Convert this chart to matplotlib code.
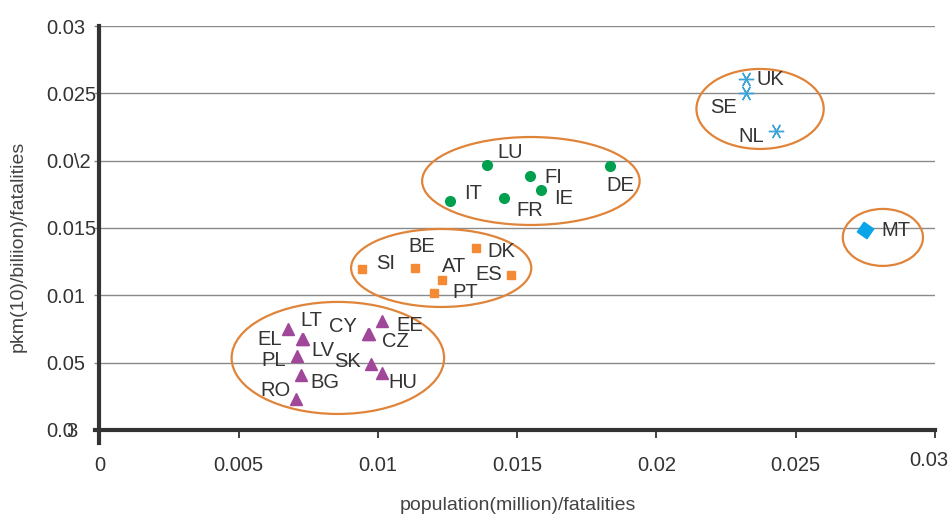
import matplotlib.pyplot as plt
import matplotlib.transforms as mtransforms
from matplotlib.patches import Ellipse

plt.rcParams['font.family'] = ['Liberation Sans', 'DejaVu Sans']

# country groups: x = population(million)/fatalities, y = pkm/fatalities
tri_names = ['LT', 'EL', 'LV', 'PL', 'BG', 'RO', 'CY', 'CZ', 'EE', 'SK', 'HU']
tri_x = [0.00677, 0.00728, 0.00730, 0.00710, 0.00722, 0.00706, 0.00964, 0.00966, 0.01013, 0.00974, 0.01013]
tri_y = [0.00748, 0.00676, 0.00674, 0.00550, 0.00406, 0.00228, 0.00715, 0.00713, 0.00807, 0.00488, 0.00426]

sq_names = ['SI', 'BE', 'DK', 'AT', 'ES', 'PT']
sq_x = [0.00941, 0.01132, 0.01351, 0.01231, 0.01478, 0.01201]
sq_y = [0.01193, 0.01203, 0.01351, 0.01114, 0.01149, 0.01020]

dot_names = ['LU', 'FI', 'IE', 'DE', 'IT', 'FR']
dot_x = [0.01390, 0.01547, 0.01585, 0.01833, 0.01258, 0.01453]
dot_y = [0.01968, 0.01886, 0.01782, 0.01960, 0.01700, 0.01723]

star_names = ['UK', 'SE', 'NL']
star_x = [0.02323, 0.02323, 0.02431]
star_y = [0.02606, 0.02505, 0.02220]

mt_names = ['MT']
mt_x = [0.02748]
mt_y = [0.01485]

# cluster ellipses (centre x, centre y, width, height)
ell_cx = [0.00856, 0.01227, 0.01549, 0.02372, 0.02813]
ell_cy = [0.00535, 0.01203, 0.01849, 0.02384, 0.01430]
ell_w = [0.00763, 0.00647, 0.00781, 0.00457, 0.00288]
ell_h = [0.00832, 0.00579, 0.00653, 0.00594, 0.00423]

xticks = [0, 0.005, 0.01, 0.015, 0.02, 0.025, 0.03]
xtick_labels = ['0', '0.005', '0.01', '0.015', '0.02', '0.025', '0.03']
yticks = [0, 0.005, 0.01, 0.015, 0.02, 0.025, 0.03]
ytick_labels = ['0.0', '0.05', '0.01', '0.015', '0.0\\2', '0.025', '0.03']

# label offsets in pixels (dx, dy, alignment)
tri_off = [(12, 9, 'left'), (-20, -1, 'right'), (9, -11, 'left'), (-11, -5, 'right'),
           (10, -7, 'left'), (-5, 9, 'right'), (-11, 7, 'right'), (13, -8, 'left'),
           (15, -4, 'left'), (-10, 3, 'right'), (7, -10, 'left')]
sq_off = [(15, 6, 'left'), (-6, 21, 'left'), (12, -3, 'left'), (0, 13, 'left'),
          (-9, 1, 'right'), (18, 0, 'left')]
dot_off = [(11, 12, 'left'), (14, -1, 'left'), (13, -8, 'left'), (-4, -19, 'left'),
           (14, 8, 'left'), (12, -13, 'left')]
star_off = [(10, 0, 'left'), (-10, -15, 'right'), (-12, -5, 'right')]
mt_off = [(17, 0, 'left')]

text_col = '#333333'
ell_col = '#E0843A'

fig = plt.figure(figsize=(9.52, 5.16), dpi=100)
ax = fig.add_axes([0.1045, 0.1667, 0.8776, 0.7829])
ax.set_xlim(0, 0.03)
ax.set_ylim(0, 0.03)

ax.yaxis.grid(True, color='#8a8a8a', linewidth=1.0)
ax.set_axisbelow(True)

ax.plot(tri_x, tri_y, '^', color='#A0479A', markersize=8, linestyle='none')
ax.plot(sq_x, sq_y, 's', color='#F58A35', markersize=5.5, linestyle='none')
ax.plot(dot_x, dot_y, 'o', color='#00A04E', markersize=7, linestyle='none')
ax.plot(star_x, star_y, marker=(6, 2, 90), color='#3BA3D6', markersize=11,
        markeredgewidth=1.0, linestyle='none')
ax.plot(mt_x, mt_y, marker=(4, 0, 10), color='#0AA5E8', markersize=12, linestyle='none')

for cx, cy, w, h in zip(ell_cx, ell_cy, ell_w, ell_h):
    ax.add_patch(Ellipse((cx, cy), w, h, fill=False, edgecolor=ell_col, linewidth=1.6))

groups = [(tri_names, tri_x, tri_y, tri_off), (sq_names, sq_x, sq_y, sq_off),
          (dot_names, dot_x, dot_y, dot_off), (star_names, star_x, star_y, star_off),
          (mt_names, mt_x, mt_y, mt_off)]
for names, xs, ys, offs in groups:
    for name, x, y, (dx, dy, ha) in zip(names, xs, ys, offs):
        ax.annotate(name, (x, y), xytext=(dx, dy), textcoords='offset pixels',
                    ha=ha, va='center', fontsize=14.5, color=text_col)

# axes styling
for side in ['top', 'right']:
    ax.spines[side].set_visible(False)
ax.spines['left'].set_linewidth(3)
ax.spines['left'].set_color('#333333')
ax.spines['left'].set_bounds(-0.001, 0.03)
ax.spines['bottom'].set_linewidth(3)
ax.spines['bottom'].set_color('#333333')
ax.spines['bottom'].set_bounds(-0.00015, 0.03)

ax.set_xticks(xticks)
ax.set_xticklabels(xtick_labels)
ax.set_yticks(yticks)
ax.set_yticklabels(ytick_labels)
ax.tick_params(axis='x', direction='out', length=6, width=1.3, color='#333333',
               pad=13, labelsize=14.5, labelcolor=text_col)
ax.tick_params(axis='y', direction='out', length=3.5, width=1.0, color='#8a8a8a',
               pad=34.5, labelsize=14.5, labelcolor=text_col)
for lab in ax.get_yticklabels():
    lab.set_horizontalalignment('left')

# last x label sits a little higher and further left
last = ax.get_xticklabels()[-1]
last.set_transform(last.get_transform() +
                   mtransforms.ScaledTranslation(-6 / 100, 5 / 100, fig.dpi_scale_trans))

# stray "3" overprinted on the bottom y label
ax.annotate('3', (0, 0), xycoords=('axes fraction', 'data'), xytext=(-33, 0),
            textcoords='offset pixels', ha='left', va='center_baseline', fontsize=14.5,
            color=text_col)

fig.text(518 / 952, 1 - 505 / 516, 'population(million)/fatalities', ha='center',
         va='center', fontsize=14, color='#444444')
fig.text(18 / 952, 1 - 246 / 516, 'pkm(10)/biliion)/fatalities', ha='center',
         va='center', rotation=90, fontsize=14, color='#444444')

fig.savefig('out.png', dpi=100)
plt.close(fig)
